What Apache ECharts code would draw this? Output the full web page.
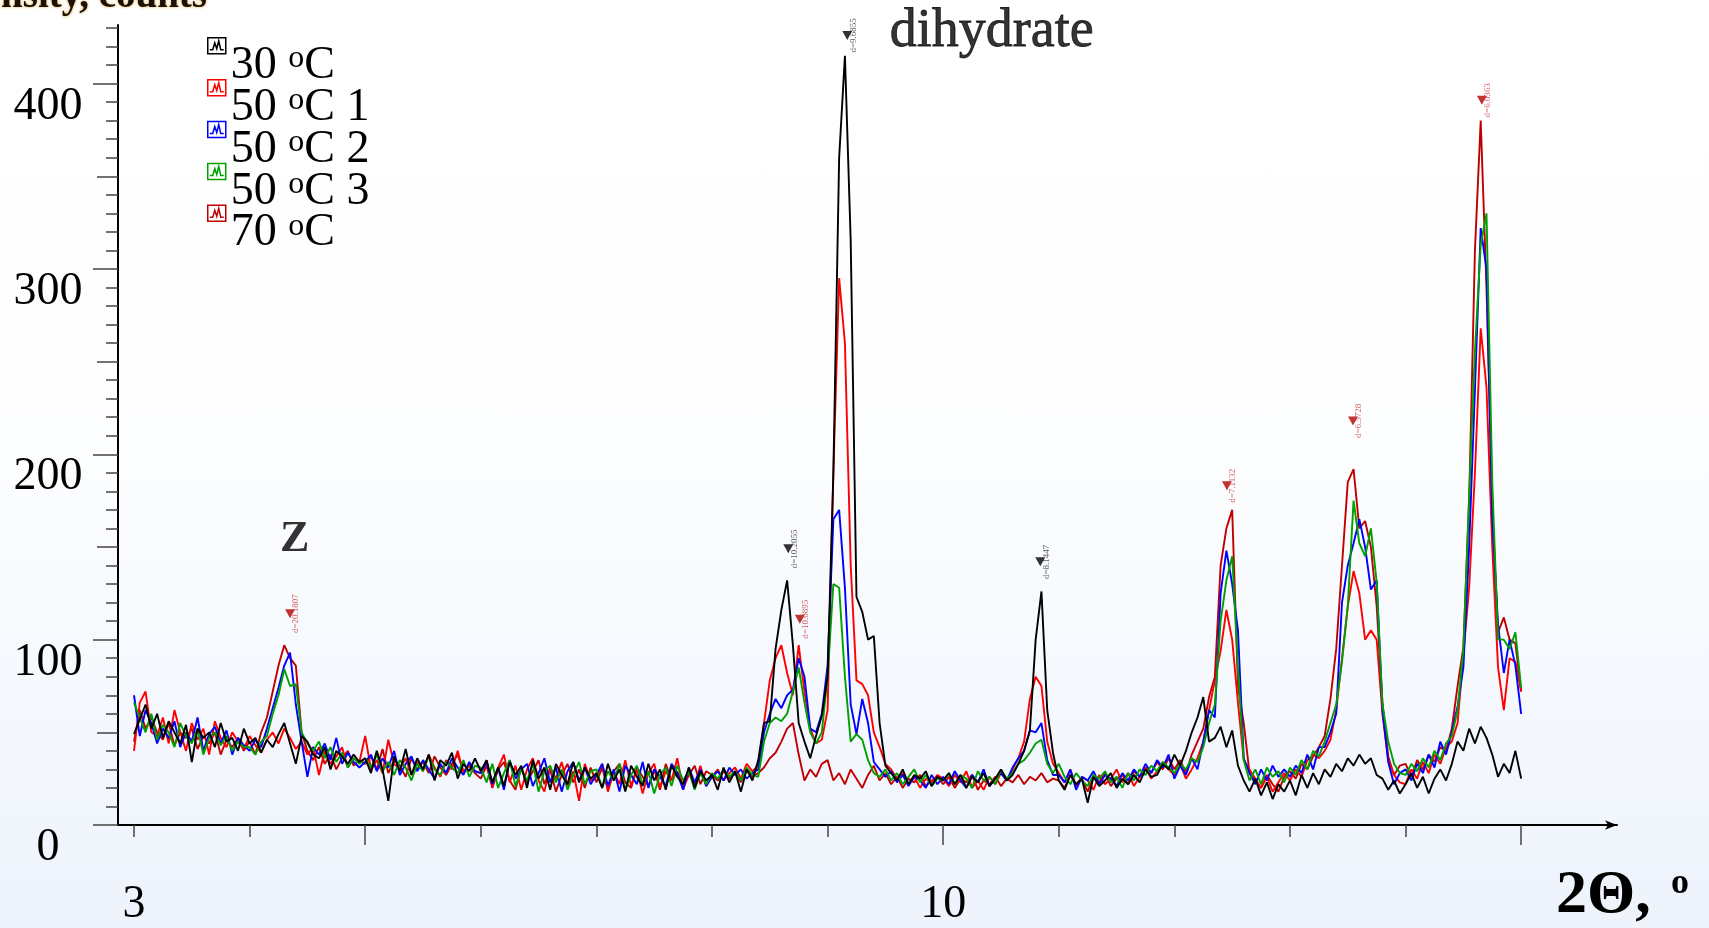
<!DOCTYPE html>
<html>
<head>
<meta charset="utf-8">
<title>XRD patterns</title>
<script src="https://cdn.jsdelivr.net/npm/echarts@6.0.0/dist/echarts.min.js"></script>
<style>
  html, body { margin: 0; padding: 0; }
  #chart {
    width: 1709px;
    height: 928px;
    background: linear-gradient(to bottom, #ffffff 0%, #fdfeff 45%, #eef3fc 100%);
  }
</style>
</head>
<body>
<div id="chart"></div>
<script>
// scan grid: 2theta from 3 to 15 deg, step 0.05
const START = 3;
const STEP = 0.05;

// intensities, counts (one row per degree)
const s30 = [
  49, 57, 65, 52, 60, 47, 56, 50, 44, 54, 34, 52, 47, 50, 42, 55, 45, 47, 40, 52,
  44, 47, 39, 46, 42, 49, 55, 44, 33, 48, 45, 38, 36, 42, 30, 40, 37, 33, 38, 34,
  36, 28, 40, 30, 13, 37, 29, 41, 27, 36, 30, 38, 24, 35, 32, 39, 25, 33, 29, 36,
  29, 35, 23, 31, 21, 34, 27, 32, 20, 35, 25, 31, 19, 33, 27, 22, 34, 23, 31, 25,
  28, 20, 33, 24, 30, 18, 32, 26, 21, 33, 24, 30, 19, 32, 26, 22, 31, 20, 29, 24,
  27, 19, 31, 23, 29, 18, 30, 24, 35, 55, 56, 95, 116, 132, 97, 55, 45, 36, 48, 59,
  80, 190, 360, 415, 315, 123, 115, 100, 102, 55, 32, 28, 24, 30, 22, 27, 25, 29, 21, 26,
  24, 28, 22, 27, 20, 26, 23, 28, 21, 25, 30, 24, 27, 33, 40, 51, 100, 126, 62, 39,
  24, 19, 27, 22, 25, 12, 26, 21, 24, 28, 20, 25, 22, 27, 23, 30, 26, 27, 33, 30,
  38, 32, 40, 50, 58, 69, 45, 47, 53, 42, 51, 32, 24, 18, 25, 16, 23, 14, 22, 18,
  24, 16, 27, 20, 28, 22, 30, 26, 33, 29, 36, 32, 38, 33, 36, 27, 25, 19, 24, 17,
  22, 28, 20, 26, 17, 25, 30, 24, 33, 45, 40, 52, 44, 53, 47, 38, 26, 33, 28, 40,
  25
];
const s50a = [
  40, 66, 72, 50, 48, 58, 44, 62, 50, 40, 55, 46, 52, 38, 56, 47, 42, 50, 45, 41,
  48, 43, 39, 46, 50, 44, 52, 47, 41, 45, 38, 42, 27, 40, 33, 37, 42, 31, 36, 34,
  48, 30, 35, 28, 46, 33, 30, 36, 27, 34, 29, 38, 31, 26, 35, 30, 40, 28, 33, 29,
  28, 35, 21, 31, 38, 23, 32, 19, 30, 36, 24, 18, 31, 25, 34, 21, 29, 13, 33, 24,
  26, 33, 18, 29, 22, 35, 21, 30, 17, 28, 33, 20, 29, 24, 36, 19, 28, 22, 32, 21,
  26, 30, 24, 28, 31, 25, 33, 29, 32, 55, 78, 90, 97, 82, 70, 97, 72, 52, 44, 46,
  62, 190, 295, 260, 140, 78, 76, 70, 50, 42, 33, 30, 25, 28, 22, 26, 20, 25, 23, 27,
  25, 21, 27, 23, 29, 20, 24, 19, 26, 22, 28, 24, 30, 36, 45, 68, 80, 75, 45, 33,
  28, 23, 30, 21, 26, 24, 19, 27, 22, 25, 30, 23, 28, 21, 26, 31, 25, 29, 34, 30,
  27, 33, 25, 30, 36, 45, 62, 78, 94, 116, 100, 66, 35, 30, 25, 20, 26, 18, 23, 28,
  24, 30, 26, 35, 38, 36, 40, 46, 62, 90, 118, 137, 125, 100, 105, 100, 60, 35, 27, 23,
  22, 30, 25, 34, 28, 38, 33, 42, 45, 55, 92, 128, 190, 268, 236, 150, 85, 62, 90, 88,
  72
];
const s50b = [
  70, 48, 62, 55, 44, 52, 47, 56, 42, 50, 45, 58, 40, 49, 53, 44, 51, 38, 47, 43,
  40, 46, 42, 52, 63, 74, 86, 93, 65, 45, 26, 42, 38, 44, 35, 47, 33, 39, 34, 31,
  34, 38, 29, 36, 31, 40, 27, 33, 37, 29, 35, 30, 25, 33, 28, 36, 31, 27, 34, 29,
  28, 34, 22, 31, 19, 35, 25, 30, 33, 21, 28, 36, 23, 31, 18, 29, 34, 24, 31, 22,
  27, 33, 21, 30, 18, 32, 27, 22, 34, 20, 30, 26, 21, 33, 28, 19, 31, 23, 30, 21,
  26, 29, 24, 31, 27, 30, 25, 28, 30, 50, 60, 68, 63, 70, 73, 90, 80, 52, 50, 60,
  86, 165, 170, 128, 65, 49, 68, 55, 34, 30, 26, 29, 23, 27, 21, 26, 24, 20, 27, 22,
  26, 22, 29, 24, 20, 27, 23, 30, 21, 25, 28, 24, 31, 36, 40, 51, 50, 55, 35, 27,
  27, 23, 30, 19, 26, 24, 29, 22, 27, 25, 21, 28, 24, 30, 26, 33, 28, 35, 31, 38,
  25, 32, 27, 36, 30, 45, 62, 58, 125, 148, 130, 105, 36, 28, 22, 30, 24, 32, 26, 30,
  26, 32, 28, 38, 30, 42, 42, 50, 60, 120, 140, 152, 165, 150, 127, 132, 62, 34, 22, 28,
  30, 24, 33, 28, 38, 31, 45, 38, 50, 64, 85, 150, 235, 322, 300, 165, 108, 82, 100, 86,
  60
];
const s50c = [
  66, 58, 50, 60, 46, 54, 50, 42, 55, 48, 44, 52, 38, 47, 50, 43, 48, 40, 45, 42,
  42, 38, 45, 48, 60, 70, 84, 75, 76, 50, 44, 40, 45, 36, 42, 34, 39, 31, 36, 33,
  36, 31, 38, 29, 34, 27, 35, 31, 24, 33, 29, 37, 30, 27, 34, 31, 28, 35, 26, 32,
  31, 23, 33, 20, 28, 35, 21, 30, 24, 33, 18, 29, 32, 23, 30, 19, 27, 34, 22, 29,
  30, 20, 29, 24, 33, 19, 27, 32, 22, 29, 17, 27, 31, 21, 32, 24, 29, 19, 28, 22,
  28, 25, 30, 26, 29, 24, 31, 27, 26, 45, 55, 58, 56, 60, 72, 85, 66, 50, 44, 50,
  80, 130, 128, 80, 45, 49, 46, 35, 28, 26, 30, 24, 28, 22, 26, 30, 23, 27, 21, 25,
  24, 28, 22, 27, 25, 20, 29, 24, 26, 22, 30, 25, 28, 33, 35, 39, 44, 46, 33, 28,
  33, 26, 22, 28, 24, 21, 27, 25, 29, 23, 26, 20, 28, 24, 30, 27, 32, 29, 34, 31,
  28, 33, 30, 36, 34, 42, 55, 65, 110, 132, 145, 85, 35, 24, 30, 22, 31, 26, 29, 23,
  31, 27, 35, 30, 40, 37, 45, 55, 65, 88, 118, 175, 152, 145, 160, 131, 65, 45, 33, 28,
  27, 33, 29, 36, 31, 40, 35, 44, 48, 62, 95, 178, 256, 313, 330, 185, 100, 100, 95, 104,
  74
];
const s70 = [
  45, 62, 52, 58, 50, 46, 55, 43, 50, 47, 52, 41, 48, 44, 50, 38, 46, 42, 47, 40,
  45, 38, 50, 58, 72, 86, 97, 90, 86, 50, 40, 35, 42, 33, 38, 30, 36, 40, 32, 35,
  33, 37, 30, 41, 28, 35, 32, 26, 36, 30, 34, 28, 37, 31, 27, 33, 38, 29, 32, 28,
  25, 32, 20, 30, 34, 24, 19, 31, 23, 29, 35, 22, 30, 18, 27, 33, 23, 30, 20, 31,
  23, 31, 19, 29, 33, 23, 20, 31, 26, 21, 30, 19, 33, 24, 29, 20, 27, 32, 22, 29,
  27, 24, 29, 25, 28, 23, 30, 26, 28, 31, 36, 39, 45, 52, 55, 38, 24, 30, 26, 33,
  35, 24, 28, 22, 30, 25, 20, 27, 32, 24, 28, 22, 26, 20, 25, 23, 27, 21, 24, 26,
  22, 26, 20, 25, 23, 27, 19, 24, 22, 26, 21, 25, 23, 27, 22, 26, 24, 28, 23, 25,
  24, 20, 27, 22, 25, 18, 26, 23, 28, 21, 25, 27, 22, 29, 26, 31, 28, 34, 30, 36,
  30, 35, 28, 38, 45, 52, 69, 80, 140, 160, 170, 75, 55, 28, 24, 20, 27, 22, 18, 26,
  29, 25, 33, 30, 37, 42, 48, 68, 95, 140, 185, 192, 160, 164, 150, 118, 66, 37, 27, 32,
  33, 26, 35, 30, 38, 34, 42, 40, 52, 75, 96, 175, 310, 380, 290, 170, 104, 112, 100, 98,
  72
];

const seriesNames = ['30 °C', '50 °C 1', '50 °C 2', '50 °C 3', '70 °C'];
const seriesColors = ['#000000', '#ff0000', '#0000ff', '#00a000', '#c00000'];
const seriesValues = [s30, s50a, s50b, s50c, s70];

// peak marks: 2theta, intensity, d-spacing label, colour
const peakX = [4.35, 8.66, 8.76, 9.17, 10.84, 12.455, 13.545, 14.66];
const peakY = [114, 149, 111, 426, 142, 183, 218, 391];
const peakText = ['d=20.1807', 'd=10.2055', 'd=10.0895', 'd=9.6855', 'd=8.1447', 'd=7.1132', 'd=6.5728', 'd=6.0363'];
const peakColor = ['#b00000', '#000000', '#b00000', '#000000', '#000000', '#b00000', '#b00000', '#b00000'];

// axis ticks and labels
const xTicks = [3, 4, 5, 6, 7, 8, 9, 10, 11, 12, 13, 14, 15];
const xLongTicks = [5, 10, 15];
const xLabels = [3, 10];
const yLabels = [0, 100, 200, 300, 400];
const yMidTicks = [50, 150, 250, 350];
const yMinorTicks = [];
for (let v = 10; v <= 430; v += 10) yMinorTicks.push(v);

const X_MIN = 2.8616;
const X_MAX = 15.829;
const Y_MAX = 431.6;

const SERIF = '"Liberation Serif", "Times New Roman", serif';

const twoTheta = s30.map((_, i) => +(START + i * STEP).toFixed(2));

const chart = echarts.init(document.getElementById('chart'), null, { renderer: 'canvas' });

// draw order: 70 C first, 30 C last (on top)
const drawOrder = [4, 1, 2, 3, 0];
const lineSeries = drawOrder.map(k => ({
  name: seriesNames[k],
  type: 'line',
  data: twoTheta.map((x, i) => [x, seriesValues[k][i]]),
  showSymbol: false,
  symbol: 'none',
  color: seriesColors[k],
  lineStyle: { color: seriesColors[k], width: 1.9 },
  itemStyle: { color: seriesColors[k] },
  animation: false
}));

const tickStyle = { color: '#444', width: 1.5 };

const option = {
  animation: false,
  grid: { left: 118, right: 92, top: 25, bottom: 99, containLabel: false },
  legend: {
    orient: 'vertical',
    left: 207,
    top: 37,
    padding: 0,
    itemGap: -15.6,
    itemWidth: 18,
    itemHeight: 56,
    // box with a zigzag on top; the trailing move keeps the label centred lower down
    icon: 'path://M0,0H18V16H0Z M2,12L5,12L7,5L9,11L11,3L13,12L16,12 M0,56',
    data: seriesNames.map((n, k) => ({
      name: n,
      itemStyle: { color: 'transparent', borderColor: seriesColors[k], borderWidth: 1.5 }
    })),
    formatter: name => name.replace('°', '{s|o}'),
    textStyle: {
      fontFamily: SERIF,
      fontSize: 46,
      color: '#000',
      lineHeight: 42,
      rich: {
        s: { fontFamily: SERIF, fontSize: 32, color: '#000', padding: [0, 0, 14, 0] }
      }
    }
  },
  xAxis: [
    {
      type: 'value', position: 'bottom', min: X_MIN, max: X_MAX,
      axisLine: { show: true, onZero: false, symbol: ['none', 'arrow'], symbolSize: [7, 12],
        lineStyle: { color: '#000', width: 2 } },
      axisTick: { show: true, customValues: xTicks, length: 12, lineStyle: tickStyle },
      axisLabel: { show: true, customValues: xLabels, fontFamily: SERIF, fontSize: 46, color: '#000', margin: 57 },
      splitLine: { show: false }
    },
    {
      type: 'value', position: 'bottom', min: X_MIN, max: X_MAX,
      axisLine: { show: false, onZero: false },
      axisTick: { show: true, customValues: xLongTicks, length: 20, lineStyle: tickStyle },
      axisLabel: { show: false },
      splitLine: { show: false }
    }
  ],
  yAxis: [
    {
      type: 'value', position: 'left', min: 0, max: Y_MAX,
      axisLine: { show: true, onZero: false, lineStyle: { color: '#000', width: 2 } },
      axisTick: { show: true, customValues: yMinorTicks, length: 12, lineStyle: tickStyle },
      axisLabel: { show: false },
      splitLine: { show: false }
    },
    {
      type: 'value', position: 'left', min: 0, max: Y_MAX,
      axisLine: { show: false, onZero: false },
      axisTick: { show: true, customValues: yMidTicks, length: 21, lineStyle: tickStyle },
      axisLabel: { show: false },
      splitLine: { show: false }
    },
    {
      type: 'value', position: 'left', min: 0, max: Y_MAX,
      axisLine: { show: false, onZero: false },
      axisTick: { show: true, customValues: yLabels, length: 25, lineStyle: tickStyle },
      axisLabel: { show: true, customValues: yLabels, fontFamily: SERIF, fontSize: 46, color: '#000',
        margin: 70, align: 'center', verticalAlign: 'top' },
      splitLine: { show: false }
    }
  ],
  graphic: [
    {
      type: 'text', x: 207, y: -3, silent: true,
      style: {
        text: 'Intensity, counts', font: 'bold 39px ' + SERIF, fill: '#1a1208',
        align: 'right', verticalAlign: 'middle',
        textShadowColor: 'rgba(230,150,30,0.9)', textShadowBlur: 3
      }
    },
    {
      type: 'text', x: 1556, y: 896, silent: true,
      style: {
        text: '2Θ,', font: 'bold 62px ' + SERIF, fill: '#000',
        align: 'left', verticalAlign: 'middle'
      }
    },
    {
      type: 'text', x: 1671, y: 884, silent: true,
      style: {
        text: 'o', font: 'bold 36px ' + SERIF, fill: '#000',
        align: 'left', verticalAlign: 'middle'
      }
    }
  ],
  series: lineSeries.concat([
    {
      name: 'peaks',
      type: 'scatter',
      symbol: 'triangle',
      symbolRotate: 180,
      symbolSize: [10, 9],
      z: 5,
      data: peakX.map((x, i) => ({
        value: [x, peakY[i]],
        name: peakText[i],
        itemStyle: { color: peakColor[i] },
        label: { color: peakColor[i] === '#000000' ? '#333' : '#c83a3a' }
      })),
      label: {
        show: true, formatter: '{b}', position: 'inside', rotate: 90, offset: [0, 6],
        align: 'center', verticalAlign: 'middle', fontFamily: SERIF, fontSize: 9
      }
    },
    {
      name: 'notes',
      type: 'scatter',
      symbolSize: 1,
      itemStyle: { color: 'transparent' },
      z: 5,
      data: [
        { value: [4.39, 154], name: 'Z', label: { fontWeight: 'bold', fontSize: 44 } },
        { value: [10.42, 428], name: 'dihydrate', label: { fontSize: 54, textBorderColor: '#000', textBorderWidth: 0.8 } }
      ],
      label: {
        show: true, formatter: '{b}', position: 'inside', color: '#000', fontFamily: SERIF
      }
    }
  ])
};

chart.setOption(option);
</script>
</body>
</html>
